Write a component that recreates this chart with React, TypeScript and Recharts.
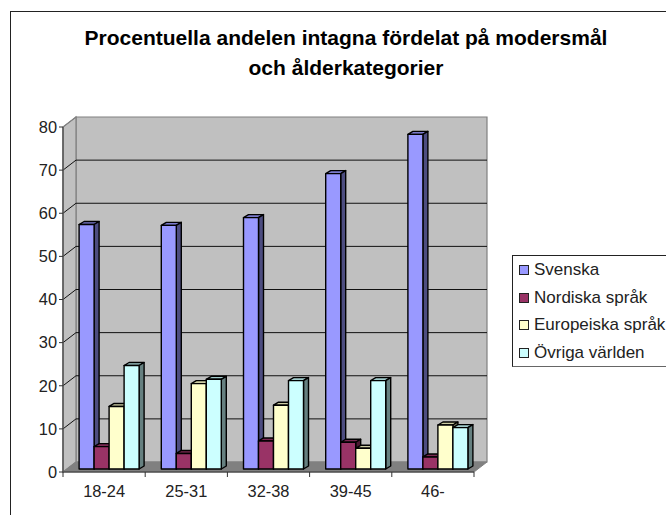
import React from "react";
import {
  BarChart,
  Bar,
  XAxis,
  YAxis,
  CartesianGrid,
  Legend,
  usePlotArea,
} from "recharts";

const categories = ["18-24", "25-31", "32-38", "39-45", "46-"];
const svenska = [56.7, 56.5, 58.3, 68.5, 77.6];
const nordiska = [5.2, 3.6, 6.5, 6.2, 2.8];
const europeiska = [14.5, 19.8, 14.8, 4.8, 10.2];
const ovriga = [24, 20.8, 20.5, 20.5, 9.6];
const yTicks = [0, 10, 20, 30, 40, 50, 60, 70, 80];

const data = categories.map((name, i) => ({
  name,
  svenska: svenska[i],
  nordiska: nordiska[i],
  europeiska: europeiska[i],
  ovriga: ovriga[i],
}));

const FONT = "'Liberation Sans', Arial, sans-serif";
const DEPTH_X = 13;
const DEPTH_Y = 10;

// back wall, side wall and floor of the 3D box
function Walls() {
  const plot = usePlotArea();
  if (!plot) return null;
  const { x, y, width, height } = plot;
  const b = y + height;
  const r = x + width;
  const dx = DEPTH_X;
  const dy = DEPTH_Y;
  return (
    <g>
      <polygon
        points={`${x + dx},${y - dy} ${r + dx},${y - dy} ${r + dx},${b - dy} ${x + dx},${b - dy}`}
        fill="#c0c0c0"
        stroke="#808080"
        strokeWidth={1.2}
      />
      <polygon
        points={`${x},${y} ${x + dx},${y - dy} ${x + dx},${b - dy} ${x},${b}`}
        fill="#c0c0c0"
        stroke="#808080"
        strokeWidth={1.2}
      />
      <polygon
        points={`${x},${b} ${x + dx},${b - dy} ${r + dx},${b - dy} ${r},${b}`}
        fill="#808080"
        stroke="#808080"
      />
    </g>
  );
}

function gridLine(props: any) {
  const { x1, x2, y1, y2, key } = props;
  const top = y1 < 130;
  const zero = y1 > 470;
  return (
    <g key={key}>
      {!zero && <line x1={x1} y1={y1} x2={x1 + DEPTH_X} y2={y1 - DEPTH_Y} stroke={top ? "#808080" : "#111"} />}
      {!zero && !top && (
        <line x1={x1 + DEPTH_X} y1={y1 - DEPTH_Y} x2={x2 + DEPTH_X} y2={y2 - DEPTH_Y} stroke="#111" />
      )}
    </g>
  );
}

// bar with front, top and side faces, pulled in to the middle of the box depth
function Bar3D(props: any) {
  const { x, y, width, height, fill, topFill, sideFill } = props;
  const sx = 4.5;
  const sy = -3;
  const d = 5;
  const e = 3;
  const l = x + sx;
  const t = y + sy;
  const w = width;
  const h = height;
  return (
    <g stroke="#000" strokeWidth={1.4} strokeLinejoin="round">
      <polygon points={`${l},${t} ${l + d},${t - e} ${l + w + d},${t - e} ${l + w},${t}`} fill={topFill} />
      <polygon points={`${l + w},${t} ${l + w + d},${t - e} ${l + w + d},${t + h - e} ${l + w},${t + h}`} fill={sideFill} />
      <rect x={l} y={t} width={w} height={h} fill={fill} />
    </g>
  );
}

function CategoryTick(props: any) {
  const { x, y, payload, index, width, visibleTicksCount } = props;
  const step = width / visibleTicksCount;
  const left = x - step / 2;
  return (
    <g>
      <line x1={left} y1={y - 8} x2={left} y2={y - 3} stroke="#333" />
      {index === visibleTicksCount - 1 && (
        <line x1={left + step} y1={y - 8} x2={left + step} y2={y - 3} stroke="#333" />
      )}
      <text x={x} y={y + 17} textAnchor="middle" fontSize={16.4} fontFamily={FONT} fill="#222">
        {payload.value}
      </text>
    </g>
  );
}

function LegendBox({ payload }: any) {
  return (
    <div
      style={{
        borderTop: "1px solid #222",
        borderLeft: "1px solid #222",
        borderRight: "1px solid #222",
        borderBottom: "1.5px solid #666",
        width: 170,
        height: 112,
        boxSizing: "border-box",
        padding: "0 0 0 6px",
        background: "#fff",
        fontFamily: FONT,
        fontSize: 17,
        color: "#222",
      }}
    >
      {(payload || []).map((p: any) => (
        <div key={p.value} style={{ display: "flex", alignItems: "center", height: 27.7, whiteSpace: "nowrap" }}>
          <span
            style={{
              display: "inline-block",
              width: 8,
              height: 8,
              border: "1.2px solid #222",
              background: p.color,
              marginRight: 5,
              flexShrink: 0,
            }}
          />
          {p.value}
        </div>
      ))}
    </div>
  );
}

export default function App() {
  return (
    <div style={{ position: "absolute", left: 0, top: 0, width: 666, height: 515, overflow: "hidden", background: "#fff" }}>
      <div
        style={{
          position: "absolute",
          left: 10,
          top: 11,
          width: 700,
          height: 600,
          border: "1.3px solid #222",
        }}
      />
      <div
        style={{
          position: "absolute",
          left: 46,
          top: 23,
          width: 600,
          textAlign: "center",
          fontFamily: FONT,
          fontWeight: "bold",
          fontSize: 21,
          lineHeight: "30px",
          color: "#000",
          whiteSpace: "nowrap",
        }}
      >
        Procentuella andelen intagna fördelat på modersmål
        <br />
        och ålderkategorier
      </div>
      <div style={{ position: "absolute", left: 0, top: 0 }}>
        <BarChart
          width={666}
          height={515}
          data={data}
          barGap={0}
          barCategoryGap={11.6}
          margin={{ top: 127, right: 192, bottom: 0, left: 10 }}
        >
          <Walls />
          <CartesianGrid vertical={false} horizontal={gridLine} zIndex={10} />
          <XAxis
            dataKey="name"
            height={43}
            tick={<CategoryTick />}
            tickLine={false}
            axisLine={{ stroke: "#333" }}
            interval={0}
          />
          <YAxis
            width={53}
            domain={[0, 80]}
            ticks={yTicks}
            tickSize={4}
            tick={{ fontSize: 16.4, fontFamily: FONT, fill: "#222" }}
            tickLine={{ stroke: "#333" }}
            axisLine={{ stroke: "#555", strokeWidth: 1.5 }}
          />
          <Legend
            layout="vertical"
            align="center"
            verticalAlign="middle"
            itemSorter={null}
            wrapperStyle={{ left: 512, top: 255, width: 170 }}
            content={<LegendBox />}
          />
          <Bar dataKey="svenska" name="Svenska" fill="#9999ff" isAnimationActive={false}
            shape={<Bar3D topFill="#7a7acc" sideFill="#4d4d80" />} />
          <Bar dataKey="nordiska" name="Nordiska språk" fill="#993366" isAnimationActive={false}
            shape={<Bar3D topFill="#7a2952" sideFill="#4d1a33" />} />
          <Bar dataKey="europeiska" name="Europeiska språk" fill="#ffffcc" isAnimationActive={false}
            shape={<Bar3D topFill="#cccca3" sideFill="#808066" />} />
          <Bar dataKey="ovriga" name="Övriga världen" fill="#ccffff" isAnimationActive={false}
            shape={<Bar3D topFill="#a3cccc" sideFill="#668080" />} />
        </BarChart>
      </div>
    </div>
  );
}
